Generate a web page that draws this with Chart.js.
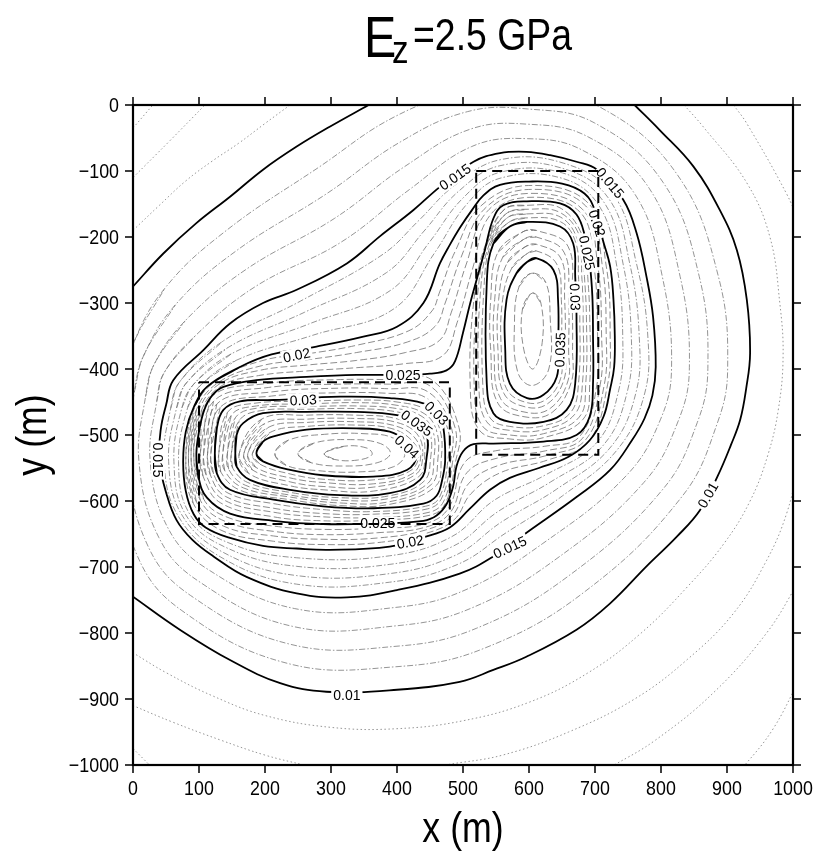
<!DOCTYPE html>
<html>
<head>
<meta charset="utf-8">
<script src="https://cdn.jsdelivr.net/npm/chart.js@4.4.1/dist/chart.umd.min.js"></script>
<style>
  html, body { margin: 0; padding: 0; background: #fff; }
  #wrap { width: 819px; height: 858px; }
</style>
</head>
<body>
<div id="wrap"><canvas id="chart" width="819" height="858"></canvas></div>
<script>
// 軸の目盛り
const xTicks = [0, 100, 200, 300, 400, 500, 600, 700, 800, 900, 1000];
const yTicks = [0, -100, -200, -300, -400, -500, -600, -700, -800, -900, -1000];

// 主コンター 0.005 間隔 (x m, y m) — 図から読み取り
const c010a = [[0,-275],[46,-225],[96,-179],[147,-139],[197,-98],[248,-63],[298,-33],[357,0]];
const c010b = [[760,0],[798,-38],[849,-93],[889,-159],[915,-220],[930,-295],[935,-376],[929,-430],[920,-477],[906,-515],[886,-562],[859,-614],[824,-654],[778,-699],[723,-755],[672,-795],[596,-836],[546,-856],[495,-874],[400,-886],[293,-889],[223,-876],[147,-841],[71,-795],[0,-745]];
const c015 = [[61,-417],[107,-371],[147,-331],[197,-300],[248,-280],[324,-240],[374,-199],[425,-159],[465,-124],[516,-86],[556,-73],[596,-71],[632,-76],[672,-86],[703,-98],[743,-144],[763,-194],[778,-260],[788,-321],[792,-397],[787,-440],[775,-475],[756,-508],[723,-553],[672,-594],[602,-644],[546,-684],[495,-710],[400,-735],[324,-746],[248,-740],[172,-715],[122,-684],[90,-659],[66,-629],[51,-590],[40,-540],[42,-492],[50,-455],[61,-417]];
const c020 = [[112,-427],[162,-397],[210,-378],[278,-366],[349,-351],[400,-336],[440,-300],[465,-240],[480,-212],[496,-185],[513,-160],[531,-137],[556,-121],[600,-116],[650,-119],[684,-134],[700,-160],[712,-205],[723,-245],[728,-295],[730,-350],[729,-397],[723,-430],[713,-472],[692,-508],[660,-533],[615,-550],[571,-565],[541,-583],[510,-612],[480,-640],[440,-655],[389,-669],[298,-674],[248,-672],[197,-668],[147,-656],[110,-640],[92,-620],[80,-585],[76,-540],[80,-495],[92,-458],[112,-427]];
const c025 = [[96,-528],[100,-495],[108,-462],[120,-440],[137,-427],[187,-417],[263,-412],[339,-409],[409,-409],[450,-407],[475,-402],[488,-388],[500,-345],[511,-300],[522,-260],[533,-220],[546,-172],[561,-152],[597,-146],[647,-149],[672,-166],[685,-200],[692,-240],[696,-290],[697,-350],[697,-422],[692,-472],[672,-500],[622,-510],[546,-513],[516,-514],[500,-525],[490,-548],[485,-578],[475,-605],[460,-622],[440,-630],[371,-634],[288,-635],[213,-630],[147,-619],[112,-595],[99,-563],[96,-528]];
const c030a = [[124,-528],[127,-490],[137,-462],[162,-449],[213,-447],[314,-442],[389,-444],[440,-452],[462,-467],[470,-487],[473,-538],[468,-570],[460,-592],[440,-604],[364,-611],[288,-608],[213,-598],[147,-583],[127,-558],[124,-528]];
const c030b = [[571,-184],[597,-177],[647,-184],[667,-210],[670,-260],[672,-321],[670,-422],[657,-462],[622,-480],[571,-480],[546,-467],[536,-422],[536,-270],[546,-210],[571,-184]];
const c035a = [[155,-528],[157,-500],[167,-482],[197,-467],[263,-465],[339,-465],[400,-470],[430,-482],[445,-500],[445,-533],[435,-568],[389,-588],[314,-591],[238,-583],[177,-568],[157,-548],[155,-528]];
const c035b = [[597,-238],[611,-232],[637,-250],[644,-295],[644,-371],[642,-412],[622,-439],[597,-444],[571,-422],[564,-371],[566,-295],[581,-255],[597,-238]];
const c040 = [[187,-528],[197,-510],[213,-502],[263,-492],[339,-490],[389,-495],[415,-510],[430,-530],[415,-553],[364,-563],[288,-561],[238,-553],[197,-540],[187,-528]];

// 副コンター 0.001 間隔 (細線)
const t006 = [[1010,-870],[970,-945],[927,-1000],[910,-1015]];
const t007a = [[0,-35],[30,0]];
const t007b = [[1010,-720],[960,-800],[880,-890],[792,-962],[729,-1000],[700,-1015]];
const t007c = [[0,-975],[25,-1000]];
const t008a = [[0,-110],[55,-55],[109,0]];
const t008b = [[910,0],[930,-28],[990,-134],[1010,-180]];
const t008c = [[1010,-540],[990,-620],[960,-690],[910,-770],[840,-840],[760,-900],[660,-950],[560,-985],[474,-1000],[430,-1010]];
const t008d = [[300,-1010],[259,-1000],[200,-985],[132,-962],[60,-935],[0,-910]];
const t009a = [[0,-190],[40,-152],[80,-115],[120,-85],[160,-58],[200,-28],[238,0]];
const t009b = [[835,0],[864,-33],[930,-118],[965,-200],[980,-300],[985,-380],[978,-460],[962,-530],[935,-600],[895,-665],[840,-730],[770,-800],[690,-860],[600,-905],[500,-933],[400,-945],[300,-943],[200,-925],[120,-895],[50,-860],[0,-830]];
const t011 = [[-1,-365],[48,-278],[139,-192],[282,-94],[398,-17],[504,19],[599,18],[709,-4],[825,-106],[887,-260],[901,-399],[885,-483],[832,-593],[685,-737],[530,-824],[400,-851],[234,-846],[74,-766],[7,-684],[-25,-540],[-15,-428],[-1,-365]];
const t012 = [[16,-380],[64,-303],[155,-222],[294,-134],[405,-56],[507,-10],[598,-6],[699,-27],[803,-117],[858,-260],[871,-399],[855,-481],[803,-582],[662,-712],[520,-793],[400,-820],[238,-817],[87,-743],[23,-669],[-8,-540],[2,-435],[16,-380]];
const t013 = [[32,-393],[79,-327],[170,-250],[305,-172],[412,-93],[510,-37],[597,-29],[689,-48],[782,-126],[829,-260],[843,-398],[826,-479],[774,-572],[641,-688],[511,-763],[400,-789],[242,-790],[100,-722],[39,-655],[9,-540],[19,-442],[32,-393]];
const t014 = [[47,-406],[94,-350],[184,-276],[315,-208],[419,-128],[513,-63],[597,-51],[680,-68],[761,-136],[802,-260],[816,-398],[799,-477],[747,-562],[620,-665],[503,-735],[400,-761],[245,-763],[111,-702],[53,-641],[26,-540],[36,-449],[47,-406]];
const t016 = [[71,-419],[136,-358],[254,-297],[379,-226],[433,-175],[487,-122],[556,-83],[652,-88],[728,-136],[763,-241],[780,-350],[775,-438],[734,-522],[651,-592],[564,-649],[492,-696],[389,-723],[248,-726],[133,-685],[68,-622],[47,-540],[57,-460],[71,-419]];
const t017 = [[81,-421],[143,-368],[260,-314],[384,-254],[441,-191],[493,-131],[556,-92],[651,-96],[721,-142],[753,-242],[767,-350],[762,-436],[724,-518],[642,-582],[558,-632],[489,-682],[389,-710],[248,-713],[137,-678],[74,-621],[54,-540],[66,-459],[81,-421]];
const t018 = [[92,-423],[149,-377],[266,-332],[390,-281],[449,-208],[500,-141],[556,-102],[651,-103],[714,-148],[743,-243],[755,-350],[749,-434],[713,-515],[633,-571],[553,-616],[486,-668],[389,-696],[248,-699],[140,-670],[80,-621],[62,-540],[74,-459],[92,-423]];
const t019 = [[102,-425],[156,-387],[272,-349],[395,-309],[457,-224],[506,-150],[556,-111],[650,-111],[707,-154],[733,-244],[742,-350],[736,-432],[703,-511],[624,-561],[547,-599],[483,-654],[389,-683],[248,-686],[144,-663],[86,-620],[69,-540],[83,-458],[102,-425]];
const t021 = [[80,-538],[92,-462],[127,-417],[197,-387],[265,-377],[339,-364],[418,-342],[453,-312],[464,-285],[488,-222],[527,-153],[599,-122],[690,-149],[717,-244],[723,-350],[719,-424],[690,-510],[628,-538],[557,-557],[512,-589],[487,-628],[444,-649],[371,-663],[288,-666],[213,-661],[133,-644],[91,-603],[80,-538]];
const t022 = [[84,-535],[96,-462],[130,-420],[195,-395],[264,-386],[339,-375],[416,-359],[458,-335],[473,-300],[497,-231],[532,-158],[599,-128],[686,-153],[711,-243],[717,-350],[714,-424],[686,-507],[627,-531],[554,-546],[509,-573],[484,-622],[443,-644],[371,-656],[288,-658],[213,-653],[137,-638],[96,-601],[84,-535]];
const t023 = [[88,-533],[100,-462],[132,-422],[192,-402],[264,-394],[339,-387],[413,-375],[464,-357],[482,-315],[505,-241],[536,-162],[598,-134],[681,-158],[704,-242],[710,-350],[708,-423],[681,-505],[625,-524],[552,-535],[506,-557],[481,-617],[442,-640],[371,-648],[288,-651],[213,-646],[140,-631],[102,-599],[88,-533]];
const t024 = [[92,-530],[104,-462],[135,-425],[190,-410],[263,-403],[339,-398],[411,-392],[469,-380],[491,-330],[514,-250],[541,-167],[598,-140],[677,-162],[698,-241],[704,-350],[703,-423],[677,-502],[624,-517],[549,-524],[503,-541],[478,-611],[441,-635],[371,-641],[288,-643],[213,-638],[144,-625],[107,-597],[92,-530]];
const t026a = [[102,-528],[117,-444],[203,-422],[314,-416],[389,-416],[452,-416],[494,-489],[488,-544],[474,-602],[452,-621],[364,-629],[288,-630],[213,-624],[133,-603],[106,-562],[102,-528]];
const t027a = [[107,-528],[122,-449],[205,-428],[314,-423],[389,-423],[449,-425],[488,-489],[484,-542],[471,-600],[449,-617],[364,-625],[288,-624],[213,-617],[137,-598],[111,-561],[107,-528]];
const t028a = [[113,-528],[127,-453],[208,-435],[314,-429],[389,-430],[446,-434],[482,-488],[481,-541],[467,-597],[446,-612],[364,-620],[288,-619],[213,-611],[140,-593],[117,-560],[113,-528]];
const t029a = [[118,-528],[132,-458],[210,-441],[314,-436],[389,-437],[443,-443],[476,-488],[477,-539],[464,-595],[443,-608],[364,-616],[288,-613],[213,-604],[144,-588],[122,-559],[118,-528]];
const t026b = [[563,-158],[597,-152],[649,-157],[684,-206],[689,-260],[692,-321],[692,-422],[682,-476],[622,-504],[571,-506],[525,-493],[511,-428],[518,-282],[536,-206],[563,-158]];
const t027b = [[565,-165],[597,-158],[649,-164],[680,-207],[684,-260],[687,-321],[686,-422],[676,-473],[622,-498],[571,-500],[530,-487],[517,-427],[523,-279],[538,-207],[565,-165]];
const t028b = [[567,-171],[597,-165],[648,-170],[675,-208],[680,-260],[682,-321],[681,-422],[669,-469],[622,-492],[571,-493],[536,-480],[524,-425],[527,-276],[541,-208],[567,-171]];
const t029b = [[569,-178],[597,-171],[648,-177],[671,-209],[675,-260],[677,-321],[675,-422],[663,-466],[622,-486],[571,-487],[541,-474],[530,-424],[532,-273],[543,-209],[569,-178]];
const t031a = [[130,-528],[143,-466],[183,-452],[263,-449],[339,-447],[400,-450],[446,-463],[465,-492],[467,-537],[458,-578],[389,-605],[314,-607],[238,-598],[163,-584],[133,-556],[130,-528]];
const t032a = [[136,-528],[149,-470],[187,-456],[263,-453],[339,-451],[400,-455],[442,-468],[460,-494],[462,-536],[452,-575],[389,-601],[314,-603],[238,-594],[167,-580],[139,-554],[136,-528]];
const t033a = [[143,-528],[155,-474],[190,-459],[263,-457],[339,-456],[400,-460],[438,-472],[455,-496],[456,-535],[447,-573],[389,-596],[314,-599],[238,-591],[170,-576],[145,-552],[143,-528]];
const t034a = [[149,-528],[161,-478],[194,-463],[263,-461],[339,-460],[400,-465],[434,-477],[450,-498],[451,-534],[441,-570],[389,-592],[314,-595],[238,-587],[174,-572],[151,-550],[149,-528]];
const t031b = [[591,-192],[611,-190],[659,-214],[665,-295],[666,-371],[664,-420],[636,-465],[597,-473],[553,-452],[542,-371],[542,-295],[553,-223],[591,-192]];
const t032b = [[593,-203],[611,-200],[653,-223],[660,-295],[660,-371],[659,-418],[633,-459],[597,-466],[557,-445],[547,-371],[548,-295],[560,-231],[593,-203]];
const t033b = [[594,-215],[611,-211],[648,-232],[654,-295],[655,-371],[653,-416],[629,-452],[597,-458],[562,-437],[553,-371],[554,-295],[567,-239],[594,-215]];
const t034b = [[596,-226],[611,-221],[642,-241],[649,-295],[649,-371],[648,-414],[626,-446],[597,-451],[566,-430],[558,-371],[560,-295],[574,-247],[596,-226]];
const t036a = [[161,-528],[195,-476],[263,-470],[339,-470],[398,-475],[435,-494],[442,-530],[433,-563],[364,-585],[288,-583],[238,-577],[175,-558],[161,-528]];
const t037a = [[168,-528],[199,-483],[263,-476],[339,-475],[396,-480],[430,-498],[439,-530],[428,-560],[364,-579],[288,-578],[238,-571],[181,-553],[168,-528]];
const t038a = [[174,-528],[204,-489],[263,-481],[339,-480],[393,-485],[425,-502],[436,-530],[424,-558],[364,-574],[288,-572],[238,-565],[186,-549],[174,-528]];
const t039a = [[181,-528],[208,-496],[263,-487],[339,-485],[391,-490],[420,-506],[433,-530],[419,-555],[364,-568],[288,-567],[238,-559],[192,-544],[181,-528]];
const t036b = [[604,-255],[625,-268],[632,-320],[630,-400],[605,-425],[583,-405],[578,-330],[585,-275],[604,-255]];
const t037b = [[605,-285],[618,-300],[620,-360],[606,-400],[592,-370],[590,-310],[605,-285]];
const t041 = [[215,-528],[235,-508],[290,-499],[350,-498],[395,-505],[412,-528],[395,-548],[340,-556],[280,-554],[232,-546],[215,-528]];
const t042 = [[250,-528],[275,-512],[330,-507],[375,-513],[390,-528],[370,-542],[320,-547],[270,-542],[250,-528]];
const t043 = [[290,-528],[320,-517],[355,-520],[362,-530],[340,-538],[305,-537],[290,-528]];

// 破線の矩形 (断層面)
const rectLeft = [[100,-420],[480,-420],[480,-635],[100,-635],[100,-420]];
const rectRight = [[520,-100],[705,-100],[705,-530],[520,-530],[520,-100]];

// コンターラベル [テキスト, x, y, 角度(度)]
const contourLabels = [
    ['0.01', 324, -894, 0],
    ['0.01', 871, -591, -60],
    ['0.015', 488, -109, -35],
    ['0.015', 723, -118, 50],
    ['0.015', 38, -538, 90],
    ['0.015', 571, -670, -25],
    ['0.02', 248, -379, -12],
    ['0.02', 420, -662, -10],
    ['0.02', 703, -179, 72],
    ['0.025', 409, -409, 0],
    ['0.025', 371, -634, 0],
    ['0.025', 688, -224, 78],
    ['0.03', 258, -447, -3],
    ['0.03', 460, -467, 45],
    ['0.03', 670, -291, 88],
    ['0.035', 430, -482, 35],
    ['0.035', 647, -371, -88],
    ['0.04', 415, -518, 42]
];

const toPts = arr => arr.map(p => ({ x: p[0], y: p[1] }));

// 閉曲線の継ぎ目を滑らかにするため前後に1点ずつ重ねる
function closeLoop(arr) {
    const n = arr.length;
    return [arr[n - 2]].concat(arr, [arr[1]]);
}

function lineSet(arr, opts = {}) {
    return Object.assign({
        data: toPts(arr),
        showLine: true,
        borderColor: '#000',
        borderWidth: 1.8,
        pointRadius: 0,
        tension: 0.4,
        fill: false,
        order: 0
    }, opts);
}

// 細線のスタイル (外側は点線, 内側は破線)
const outerStyle = { borderColor: '#8a8a8a', borderWidth: 0.9, borderDash: [1.5, 2.5], order: 2 };
const midStyle = { borderColor: '#7a7a7a', borderWidth: 0.8, borderDash: [6, 2, 1.5, 2], order: 2 };
const innerStyle = { borderColor: '#707070', borderWidth: 0.8, borderDash: [7, 3], order: 2 };

const thickOpen = [c010a, c010b];
const thickLoops = [c015, c020, c025, c030a, c030b, c035a, c035b, c040];
const thinOpen = [t006, t007a, t007b, t007c, t008a, t008b, t008c, t008d, t009a, t009b];
const midLoops = [t011, t012, t013, t014, t016, t017, t018, t019];
const innerLoops = [t021, t022, t023, t024,
    t026a, t027a, t028a, t029a, t026b, t027b, t028b, t029b,
    t031a, t032a, t033a, t034a, t031b, t032b, t033b, t034b,
    t036a, t037a, t038a, t039a, t036b, t037b, t041, t042, t043];

const datasets = [];
thickOpen.forEach(c => datasets.push(lineSet(c)));
thickLoops.forEach(c => datasets.push(lineSet(closeLoop(c))));
datasets.push(lineSet(rectLeft, { tension: 0, borderDash: [10, 6], borderWidth: 2, order: -1, isRect: true }));
datasets.push(lineSet(rectRight, { tension: 0, borderDash: [10, 6], borderWidth: 2, order: -1, isRect: true }));
thinOpen.forEach(c => datasets.push(lineSet(c, outerStyle)));
midLoops.forEach(c => datasets.push(lineSet(closeLoop(c), midStyle)));
innerLoops.forEach(c => datasets.push(lineSet(closeLoop(c), innerStyle)));

/**
 * 文字を横に詰めて描く
 */
function drawText(ctx, text, x, y, font, align, baseline, sx) {
    ctx.save();
    ctx.translate(x, y);
    ctx.scale(sx, 1);
    ctx.font = font;
    ctx.textAlign = align;
    ctx.textBaseline = baseline;
    ctx.fillStyle = '#000';
    ctx.fillText(text, 0, 0);
    ctx.restore();
}

/**
 * コンターラベルを描く (白抜きで線を切る)
 */
function drawContourLabels(chart) {
    const ctx = chart.ctx;
    const xs = chart.scales.x, ys = chart.scales.y;
    ctx.save();
    ctx.font = '14px "Liberation Sans", Arial, sans-serif';
    contourLabels.forEach(([t, x, y, a]) => {
        const px = xs.getPixelForValue(x), py = ys.getPixelForValue(y);
        ctx.save();
        ctx.translate(px, py);
        ctx.rotate(a * Math.PI / 180);
        const w = ctx.measureText(t).width;
        ctx.fillStyle = '#fff';
        ctx.fillRect(-w / 2 - 2, -7, w + 4, 14);
        ctx.fillStyle = '#000';
        ctx.textAlign = 'center';
        ctx.textBaseline = 'middle';
        ctx.fillText(t, 0, 1);
        ctx.restore();
    });
    ctx.restore();
}

let labelsDone = false;

// ラベル・枠・目盛り・タイトルを描くプラグイン
const decor = {
    id: 'decor',
    beforeDraw() {
        labelsDone = false;
    },
    beforeDatasetDraw(chart, args) {
        // 矩形の破線はラベルの上に重ねる
        if (!labelsDone && chart.data.datasets[args.index].isRect) {
            drawContourLabels(chart);
            labelsDone = true;
        }
    },
    afterDatasetsDraw(chart) {
        if (!labelsDone) {
            drawContourLabels(chart);
            labelsDone = true;
        }
    },
    afterDraw(chart) {
        const ctx = chart.ctx;
        const area = chart.chartArea;
        const xs = chart.scales.x, ys = chart.scales.y;
        const tl = 8;
        const tickFont = '21px "Liberation Sans", Arial, sans-serif';
        ctx.save();
        ctx.strokeStyle = '#000';
        ctx.lineWidth = 1.5;
        ctx.beginPath();
        xTicks.forEach(v => {
            const p = xs.getPixelForValue(v);
            ctx.moveTo(p, area.bottom); ctx.lineTo(p, area.bottom + tl);
            ctx.moveTo(p, area.top); ctx.lineTo(p, area.top - tl);
        });
        yTicks.forEach(v => {
            const p = ys.getPixelForValue(v);
            ctx.moveTo(area.left, p); ctx.lineTo(area.left - tl, p);
            ctx.moveTo(area.right, p); ctx.lineTo(area.right + tl, p);
        });
        ctx.stroke();
        ctx.lineWidth = 2.2;
        ctx.strokeRect(area.left, area.top, area.right - area.left, area.bottom - area.top);

        xTicks.forEach(v => {
            drawText(ctx, String(v), xs.getPixelForValue(v), area.bottom + 14, tickFont, 'center', 'top', 0.85);
        });
        yTicks.forEach(v => {
            const t = v === 0 ? '0' : '\u2212' + Math.abs(v);
            drawText(ctx, t, area.left - 14, ys.getPixelForValue(v) + 1, tickFont, 'right', 'middle', 0.85);
        });

        // 軸タイトル
        drawText(ctx, 'x (m)', (area.left + area.right) / 2, 842, '42px "Liberation Sans", Arial, sans-serif', 'center', 'alphabetic', 0.85);
        ctx.save();
        ctx.translate(46, (area.top + area.bottom) / 2);
        ctx.rotate(-Math.PI / 2);
        drawText(ctx, 'y (m)', 0, 0, '42px "Liberation Sans", Arial, sans-serif', 'center', 'alphabetic', 0.85);
        ctx.restore();

        // タイトル E_z=2.5 GPa
        drawText(ctx, 'E', 364, 57, '57px "Liberation Sans", Arial, sans-serif', 'left', 'alphabetic', 0.85);
        drawText(ctx, 'z', 392, 63, '39px "Liberation Sans", Arial, sans-serif', 'left', 'alphabetic', 0.85);
        drawText(ctx, '=2.5 GPa', 413, 50, '44px "Liberation Sans", Arial, sans-serif', 'left', 'alphabetic', 0.85);
        ctx.restore();
    }
};

new Chart(document.getElementById('chart'), {
    type: 'scatter',
    data: { datasets: datasets },
    options: {
        responsive: false,
        animation: false,
        devicePixelRatio: 1,
        layout: { padding: { left: 133, right: 26, top: 105, bottom: 93 } },
        plugins: { legend: { display: false }, tooltip: { enabled: false }, title: { display: false } },
        scales: {
            x: { type: 'linear', min: 0, max: 1000, display: false },
            y: { type: 'linear', min: -1000, max: 0, display: false }
        }
    },
    plugins: [decor]
});
</script>
</body>
</html>
